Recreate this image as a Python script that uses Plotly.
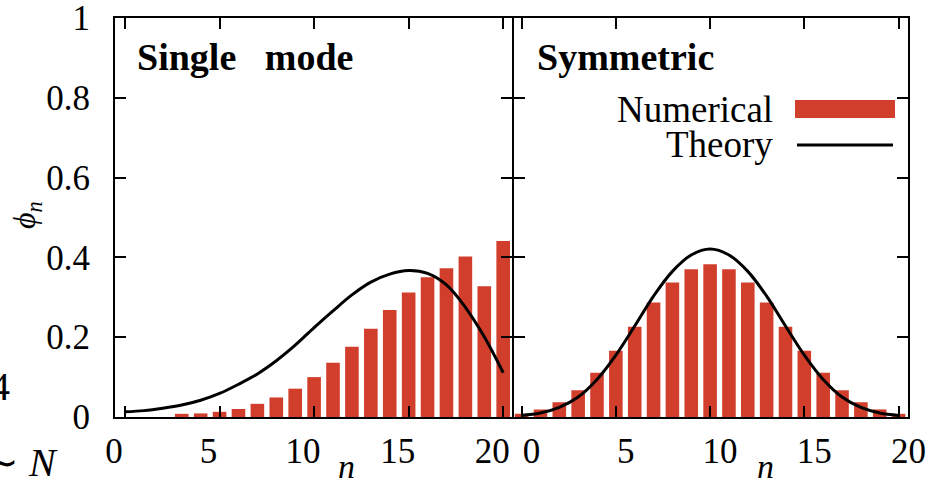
import plotly.graph_objects as go

# ---------------- data ----------------
n_vals = list(range(21))
x_tick_vals = [0, 5, 10, 15, 20]
y_tick_vals = [0, 0.2, 0.4, 0.6, 0.8, 1.0]
y_tick_labels = ["0", "0.2", "0.4", "0.6", "0.8", "1"]

single_numerical = [0.0, 0.0, 0.0, 0.008, 0.009, 0.013, 0.020, 0.033, 0.049, 0.071,
                    0.100, 0.136, 0.176, 0.221, 0.268, 0.312, 0.350, 0.373, 0.402,
                    0.328, 0.441]
single_theory = [0.013, 0.016, 0.022, 0.030, 0.042, 0.059, 0.082, 0.108, 0.141, 0.180,
                 0.224, 0.266, 0.306, 0.338, 0.358, 0.367, 0.360, 0.331, 0.275,
                 0.201, 0.111]

sym_numerical = [0.008, 0.019, 0.037, 0.067, 0.111, 0.166, 0.226, 0.287, 0.337, 0.370,
                 0.383, 0.370, 0.337, 0.287, 0.226, 0.166, 0.111, 0.067, 0.037,
                 0.019, 0.008]
sym_theory = [0.004, 0.010, 0.024, 0.050, 0.094, 0.155, 0.228, 0.303, 0.365, 0.406,
              0.421, 0.406, 0.365, 0.303, 0.228, 0.155, 0.094, 0.050, 0.024,
              0.010, 0.004]

panel_titles = ["Single\u00a0\u00a0\u00a0mode", "Symmetric"]
legend_labels = ["Numerical", "Theory"]

# ---------------- style ----------------
RED = "#D13F2C"
FONT = "Liberation Serif"
FS = 35
W, H = 943, 486
ML, MR, MT, MB = 115, 35, 18, 69
PW = W - ML - MR
PH = H - MT - MB
LW = 2
SPLIT_L = (512.7 - ML - LW / 2) / PW
SPLIT_R = (512.7 - ML + LW / 2) / PW


def px(x):
    return (x - ML) / PW


def py(y):
    return (H - MB - y) / PH


fig = go.Figure()
fig.add_trace(go.Bar(x=n_vals, y=single_numerical, width=0.72,
                     marker=dict(color=RED, line=dict(width=0)),
                     xaxis="x", yaxis="y", name=legend_labels[0]))
fig.add_trace(go.Scatter(x=n_vals, y=single_theory, mode="lines",
                         line=dict(color="black", width=3, shape="spline", smoothing=1),
                         xaxis="x", yaxis="y", name=legend_labels[1]))
fig.add_trace(go.Bar(x=n_vals, y=sym_numerical, width=0.72,
                     marker=dict(color=RED, line=dict(width=0)),
                     xaxis="x2", yaxis="y2", name=legend_labels[0]))
fig.add_trace(go.Scatter(x=n_vals, y=sym_theory, mode="lines",
                         line=dict(color="black", width=3, shape="spline", smoothing=1),
                         xaxis="x2", yaxis="y2", name=legend_labels[1]))

axis_common = dict(
    ticks="inside", ticklen=11, tickwidth=1.5, tickcolor="black",
    showline=True, linewidth=LW, linecolor="black", mirror="ticks",
    showgrid=False, zeroline=False, ticklabeloverflow="allow", automargin=False,
    tickfont=dict(family=FONT, size=FS, color="black"),
)

fig.update_layout(
    width=W, height=H,
    margin=dict(l=ML, r=MR, t=MT, b=MB, pad=0, autoexpand=False),
    paper_bgcolor="white", plot_bgcolor="white",
    showlegend=False,
    xaxis=dict(domain=[0, SPLIT_L], range=[-0.53, 20.45], tickvals=x_tick_vals,
               anchor="y", ticklabelshift=-11, ticklabelstandoff=2, **axis_common),
    yaxis=dict(domain=[0, 1], range=[0, 1], tickvals=y_tick_vals, ticktext=y_tick_labels,
               anchor="x", ticklabelstandoff=16, **axis_common),
    xaxis2=dict(domain=[SPLIT_R, 1], range=[-0.42, 20.5], tickvals=x_tick_vals,
                anchor="y2", ticklabelshift=10, ticklabelstandoff=2, **axis_common),
    yaxis2=dict(domain=[0, 1], range=[0, 1], tickvals=y_tick_vals,
                anchor="x2", showticklabels=False, **axis_common),
)

annotations = []
# panel titles
annotations.append(dict(text="<b>%s</b>" % panel_titles[0], x=px(135), y=py(57),
                        xref="paper", yref="paper", xanchor="left", yanchor="middle",
                        showarrow=False, font=dict(family=FONT, size=38, color="black")))
annotations.append(dict(text="<b>%s</b>" % panel_titles[1], x=px(535), y=py(57),
                        xref="paper", yref="paper", xanchor="left", yanchor="middle",
                        showarrow=False, font=dict(family=FONT, size=38, color="black")))
# legend text
annotations.append(dict(text=legend_labels[0], x=px(775), y=py(109),
                        xref="paper", yref="paper", xanchor="right", yanchor="middle",
                        showarrow=False, font=dict(family=FONT, size=37, color="black")))
annotations.append(dict(text=legend_labels[1], x=px(775), y=py(144),
                        xref="paper", yref="paper", xanchor="right", yanchor="middle",
                        showarrow=False, font=dict(family=FONT, size=37, color="black")))
# axis titles
annotations.append(dict(text="<i>ϕ<sub>n</sub></i>", x=px(26), y=py(215),
                        xref="paper", yref="paper", xanchor="center", yanchor="middle",
                        textangle=-90, showarrow=False,
                        font=dict(family=FONT, size=32, color="black")))
annotations.append(dict(text="<i>n</i>", x=px(346), y=py(466),
                        xref="paper", yref="paper", xanchor="center", yanchor="middle",
                        showarrow=False, font=dict(family=FONT, size=34, color="black")))
annotations.append(dict(text="<i>n</i>", x=px(765), y=py(466),
                        xref="paper", yref="paper", xanchor="center", yanchor="middle",
                        showarrow=False, font=dict(family=FONT, size=34, color="black")))
# fragments of surrounding text cut by the left edge of the crop
annotations.append(dict(text="4", x=px(12), y=py(386),
                        xref="paper", yref="paper", xanchor="right", yanchor="middle",
                        showarrow=False, font=dict(family=FONT, size=40, color="black")))
annotations.append(dict(text="∼\u00a0<i>N</i>", x=px(60), y=py(462),
                        xref="paper", yref="paper", xanchor="right", yanchor="middle",
                        showarrow=False, font=dict(family=FONT, size=40, color="black")))
fig.update_layout(annotations=annotations)

# legend swatches
fig.add_shape(type="rect", xref="paper", yref="paper",
              x0=px(795), x1=px(895), y0=py(118), y1=py(100),
              fillcolor=RED, line=dict(width=0))
fig.add_shape(type="line", xref="paper", yref="paper",
              x0=px(797), x1=px(893), y0=py(145), y1=py(145),
              line=dict(color="black", width=3))

fig.write_html("out.html")
